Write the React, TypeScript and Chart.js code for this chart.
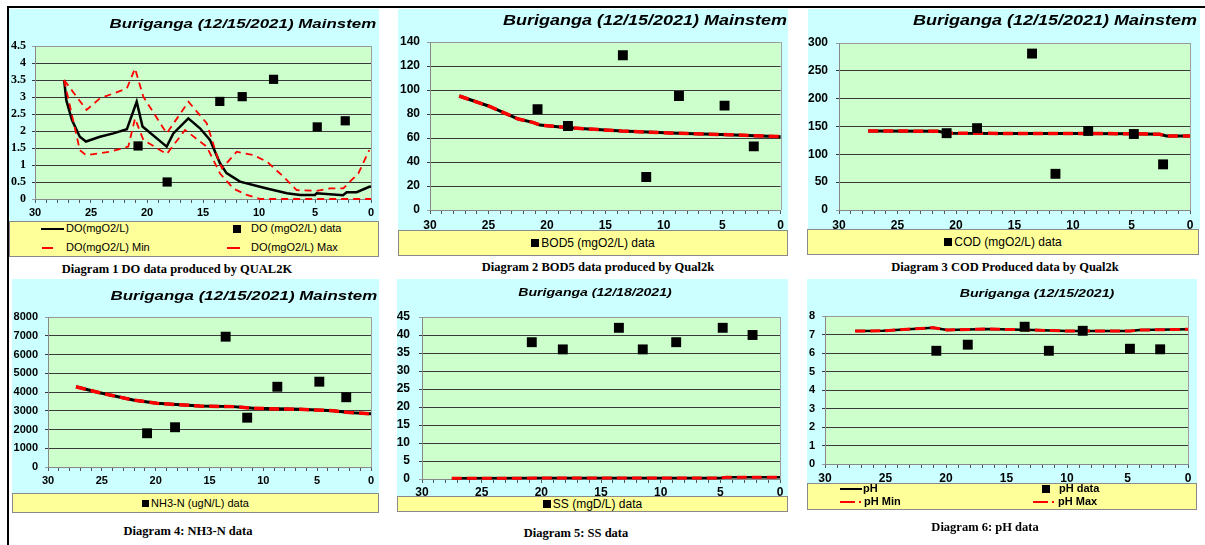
import React, { useEffect, useRef } from 'react';
import { Chart, registerables } from 'chart.js';
Chart.register(...registerables);

const SANS = '"Liberation Sans", Arial, Helvetica, sans-serif';
const SERIF = '"Liberation Serif", "Times New Roman", serif';
const CYAN = '#ccffff';
const GREEN = '#ccffcc';
const YELLOW = '#ffff99';
const RED = '#ff0000';
const PAGE_W = 1205;
const PAGE_H = 545;

// ---------- data ----------
const xTickLabels = [30, 25, 20, 15, 10, 5, 0];
const stationKm = [20.8, 18.2, 13.5, 11.5, 8.7, 4.8, 2.3];

// Diagram 1 : DO
const doObs = [1.56, 0.5, 2.87, 3.01, 3.52, 2.12, 2.3];
const doModelKm = [27.4, 27.2, 26.7, 26.0, 25.45, 24.2, 23.0, 21.8, 20.92, 20.4, 18.24, 17.65, 16.31, 15.27, 14.38, 13.48, 12.9, 11.7, 9.3, 7.5, 6.34, 5.0, 4.85, 2.5, 2.17, 1.28, 0.15, 0];
const doModel = [3.5, 2.9, 2.32, 1.83, 1.69, 1.83, 1.93, 2.05, 2.86, 2.13, 1.54, 1.93, 2.37, 2.08, 1.74, 1.05, 0.76, 0.51, 0.31, 0.17, 0.12, 0.12, 0.17, 0.11, 0.2, 0.2, 0.36, 0.37];
const doMinKm = [27.4, 26.0, 25.45, 23.3, 21.67, 21.07, 20.33, 18.24, 16.6, 14.67, 13.48, 12.3, 11.1, 9.9, 0];
const doMin = [3.5, 1.44, 1.29, 1.39, 1.54, 2.37, 1.74, 1.32, 2.03, 1.54, 0.75, 0.31, 0.12, 0, 0];
const doMaxKm = [27.4, 25.4, 24.2, 21.8, 21.07, 20.33, 18.24, 16.3, 14.67, 13.63, 13.3, 11.99, 10.5, 9.3, 7.83, 6.64, 4.85, 3.66, 2.47, 1.88, 1.13, 0.15];
const doMax = [3.5, 2.62, 2.96, 3.25, 3.84, 3.01, 1.93, 2.86, 2.23, 1.15, 0.9, 1.39, 1.29, 1.1, 0.66, 0.26, 0.24, 0.31, 0.31, 0.51, 0.75, 1.44];

// Diagram 2 : BOD5
const bodObs = [84, 70, 129, 27.5, 95, 87, 53];
const bodModelKm = [27.5, 25.0, 22.45, 21.2, 20.6, 18.2, 13.6, 8.76, 4.5, 1.6, 0];
const bodModel = [95, 86.7, 75.8, 73, 70.8, 68.6, 65.8, 63.9, 62.8, 61.7, 61.1];

// Diagram 3 : COD
const codObs = [138, 147, 281, 65, 142, 136.5, 82];
const codModelKm = [27.5, 21.5, 20.8, 15, 10, 5, 2.6, 2.0, 0];
const codModel = [142, 141.5, 138, 137.5, 137.5, 137, 136, 133, 133];

// Diagram 4 : NH3-N
const nh3Obs = [1800, 2120, 6950, 2630, 4280, 4550, 3720];
const nh3ModelKm = [27.4, 25.2, 22.1, 19.9, 15.9, 12.8, 10.9, 6.6, 3.5, 2.0, 0];
const nh3Model = [4280, 3960, 3570, 3400, 3250, 3220, 3130, 3075, 3000, 2900, 2840];

// Diagram 5 : SS
const ssObs = [38, 36, 42, 36, 38, 42, 40];
const ssModelKm = [27.5, 20, 15, 10, 5, 4.5, 0];
const ssModel = [0.2, 0.25, 0.3, 0.3, 0.3, 0.5, 0.5];

// Diagram 6 : pH
const phObs = [6.12, 6.45, 7.42, 6.12, 7.2, 6.23, 6.2];
const phModelKm = [27.5, 25.2, 21.05, 19.9, 16.6, 12.8, 10.0, 4.8, 4.0, 0];
const phModel = [7.19, 7.2, 7.37, 7.24, 7.3, 7.24, 7.19, 7.19, 7.24, 7.28];

// ---------- helpers ----------
type Box = { left: number; top: number; width: number; height: number };
type Area = { left: number; right: number; top: number; bottom: number };

const toXY = (xs: number[], ys: number[]) => xs.map((x, i) => ({ x, y: ys[i] }));

const lineDs = (label: string, xs: number[], ys: number[], color: string, width: number, dash: number[] = []) => ({
  label,
  data: toXY(xs, ys),
  showLine: true,
  borderColor: color,
  backgroundColor: color,
  borderWidth: width,
  borderDash: dash,
  pointRadius: 0,
  pointHoverRadius: 0,
  tension: 0,
  fill: false,
  clip: false as any,
});

const obsDs = (label: string, ys: number[], r: number) => ({
  label,
  data: toXY(stationKm, ys),
  showLine: false,
  pointStyle: 'rect',
  pointRadius: r,
  pointHoverRadius: r,
  backgroundColor: '#000',
  borderColor: '#000',
  borderWidth: 0,
});

const bgPlugin = {
  id: 'bgPlugin',
  beforeDraw(chart: any) {
    const { ctx, chartArea: a } = chart;
    ctx.save();
    ctx.fillStyle = GREEN;
    ctx.fillRect(a.left, a.top, a.right - a.left, a.bottom - a.top);
    ctx.strokeStyle = '#a0a0a0';
    ctx.lineWidth = 1;
    ctx.beginPath();
    ctx.moveTo(Math.round(a.right) + 0.5, a.top);
    ctx.lineTo(Math.round(a.right) + 0.5, a.bottom);
    ctx.stroke();
    ctx.restore();
  },
};

type Spec = {
  box: Box;
  canvasH: number;
  area: Area;
  yMax: number;
  yStep: number;
  yFont: any;
  xFs: number;
  yPad: number;
  xPad: number;
  datasets: any[];
};

function ChartCanvas({ spec }: { spec: Spec }) {
  const ref = useRef<HTMLCanvasElement>(null);
  useEffect(() => {
    const c = ref.current!;
    const { box, area, canvasH } = spec;
    const chart = new Chart(c, {
      type: 'scatter',
      data: { datasets: spec.datasets },
      options: {
        responsive: false,
        animation: false,
        devicePixelRatio: 1,
        events: [],
        layout: {
          padding: { left: 0, top: area.top - box.top, right: box.left + box.width - area.right, bottom: 0 },
        },
        plugins: { legend: { display: false }, tooltip: { enabled: false }, title: { display: false } },
        scales: {
          x: {
            type: 'linear',
            reverse: true,
            min: 0,
            max: 30,
            afterFit: (s: any) => {
              s.height = canvasH - (area.bottom - box.top);
            },
            ticks: {
              stepSize: 1,
              autoSkip: false,
              maxRotation: 0,
              padding: spec.xPad,
              color: '#000',
              font: { family: SANS, size: spec.xFs, weight: 'bold' },
              callback: (v: any) => (xTickLabels.includes(Number(v)) ? String(v) : ''),
            },
            grid: { drawOnChartArea: false, drawTicks: true, tickLength: 4, color: '#555' },
            border: { display: true, color: '#888', width: 1 },
          },
          y: {
            min: 0,
            max: spec.yMax,
            afterFit: (s: any) => {
              s.width = area.left - box.left;
            },
            ticks: {
              stepSize: spec.yStep,
              autoSkip: false,
              padding: spec.yPad,
              color: '#000',
              font: spec.yFont,
              callback: (v: any) => String(v),
            },
            grid: {
              color: (ctx: any) => {
                const v = ctx.tick ? ctx.tick.value : null;
                return v === spec.yMax || v === 0 ? '#9a9a9a' : '#3a3a3a';
              },
              tickLength: 3,
              lineWidth: 1,
            },
            border: { display: true, color: '#888', width: 1 },
          },
        },
      } as any,
      plugins: [bgPlugin],
    });
    return () => chart.destroy();
  }, []);
  return (
    <canvas
      ref={ref}
      width={spec.box.width}
      height={spec.canvasH}
      style={{
        position: 'absolute',
        left: spec.box.left,
        top: spec.box.top,
        width: spec.box.width,
        height: spec.canvasH,
        display: 'block',
        background: CYAN,
      }}
    />
  );
}

function Title({ text, x, y, fs, sx, align }: { text: string; x: number; y: number; fs: number; sx: number; align: 'right' | 'center' }) {
  const base: any = {
    position: 'absolute',
    top: y - fs * 0.6,
    fontFamily: SANS,
    fontWeight: 'bold',
    fontStyle: 'italic',
    fontSize: fs,
    lineHeight: `${fs * 1.2}px`,
    whiteSpace: 'nowrap',
    color: '#000',
  };
  if (align === 'right') {
    return <div style={{ ...base, right: PAGE_W - x, transformOrigin: 'right center', transform: `scaleX(${sx})` }}>{text}</div>;
  }
  return <div style={{ ...base, left: x, transform: `translateX(-50%) scaleX(${sx})` }}>{text}</div>;
}

function Txt({ text, x, y, fs, bold, family, center }: { text: string; x: number; y: number; fs: number; bold?: boolean; family?: string; center?: boolean }) {
  return (
    <div
      style={{
        position: 'absolute',
        left: x,
        top: y - fs * 0.6,
        fontFamily: family || SANS,
        fontWeight: bold ? 'bold' : 'normal',
        fontSize: fs,
        lineHeight: `${fs * 1.2}px`,
        whiteSpace: 'nowrap',
        color: '#000',
        transform: center ? 'translateX(-50%)' : undefined,
      }}
    >
      {text}
    </div>
  );
}

function Seg({ x1, x2, y, color, w }: { x1: number; x2: number; y: number; color: string; w: number }) {
  return <div style={{ position: 'absolute', left: x1, top: y - w / 2, width: x2 - x1, height: w, background: color }} />;
}

function Sq({ cx, cy, s }: { cx: number; cy: number; s: number }) {
  return <div style={{ position: 'absolute', left: cx - s / 2, top: cy - s / 2, width: s, height: s, background: '#000' }} />;
}

function LegendBox({ box, children }: { box: Box; children?: any }) {
  return (
    <div
      style={{
        position: 'absolute',
        left: box.left,
        top: box.top,
        width: box.width,
        height: box.height,
        background: YELLOW,
        boxSizing: 'border-box',
        border: '1px solid #8a8a8a',
      }}
    >
      {children}
    </div>
  );
}

function CenterLegend({ box, text, fs, sq }: { box: Box; text: string; fs: number; sq: number }) {
  return (
    <LegendBox box={box}>
      <div
        style={{
          position: 'absolute',
          left: 0,
          right: 0,
          top: 0,
          bottom: 0,
          display: 'flex',
          alignItems: 'center',
          justifyContent: 'center',
          fontFamily: SANS,
          fontSize: fs,
          color: '#000',
          whiteSpace: 'nowrap',
        }}
      >
        <span style={{ display: 'inline-block', width: sq, height: sq, background: '#000', marginRight: 2 }} />
        <span>{text}</span>
      </div>
    </LegendBox>
  );
}

// ---------- panel specs ----------
const boldSans = (size: number) => ({ family: SANS, size, weight: 'bold' });

const p1: Spec = {
  box: { left: 9, top: 9, width: 370, height: 212 },
  canvasH: 212,
  area: { left: 35, right: 371, top: 46, bottom: 199 },
  yMax: 4.5,
  yStep: 0.5,
  yFont: { family: SERIF, size: 12, weight: 'bold' },
  xFs: 11,
  yPad: 6,
  xPad: 3,
  datasets: [
    obsDs('DO (mgO2/L) data', doObs, 6.5),
    lineDs('DO(mgO2/L) Max', doMaxKm, doMax, RED, 1.8, [7, 5]),
    lineDs('DO(mgO2/L) Min', doMinKm, doMin, RED, 1.8, [7, 5]),
    lineDs('DO(mgO2/L)', doModelKm, doModel, '#000', 2.5),
  ],
};

const p2: Spec = {
  box: { left: 398, top: 9, width: 390, height: 221 },
  canvasH: 221,
  area: { left: 430, right: 781, top: 42, bottom: 210 },
  yMax: 140,
  yStep: 20,
  yFont: boldSans(12),
  xFs: 12,
  yPad: 7,
  xPad: 4,
  datasets: [
    obsDs('BOD5 (mgO2/L) data', bodObs, 7),
    lineDs('BOD5 Min/Max', bodModelKm, bodModel, RED, 3.5, [10, 5]),
    lineDs('BOD5 (mgO2/L)', bodModelKm, bodModel, '#000', 3),
  ],
};

const p3: Spec = {
  box: { left: 808, top: 9, width: 392, height: 220 },
  canvasH: 220,
  area: { left: 839, right: 1190, top: 43, bottom: 210 },
  yMax: 300,
  yStep: 50,
  yFont: boldSans(12),
  xFs: 12,
  yPad: 8,
  xPad: 4,
  datasets: [
    obsDs('COD (mgO2/L) data', codObs, 7),
    lineDs('COD Min/Max', codModelKm, codModel, RED, 3.5, [10, 5]),
    lineDs('COD (mgO2/L)', codModelKm, codModel, '#000', 3),
  ],
};

const p4: Spec = {
  box: { left: 12, top: 279, width: 367, height: 214 },
  canvasH: 214,
  area: { left: 48, right: 371, top: 317, bottom: 467 },
  yMax: 8000,
  yStep: 1000,
  yFont: boldSans(11),
  xFs: 11,
  yPad: 7,
  xPad: 3,
  datasets: [
    obsDs('NH3-N (ugN/L) data', nh3Obs, 7),
    lineDs('NH3-N Min/Max', nh3ModelKm, nh3Model, RED, 3.5, [10, 5]),
    lineDs('NH3-N (ugN/L)', nh3ModelKm, nh3Model, '#000', 3),
  ],
};

const p5: Spec = {
  box: { left: 397, top: 279, width: 391, height: 217 },
  canvasH: 219,
  area: { left: 422, right: 780, top: 317, bottom: 479 },
  yMax: 45,
  yStep: 5,
  yFont: boldSans(12),
  xFs: 12,
  yPad: 9,
  xPad: 2,
  datasets: [
    obsDs('SS (mgD/L) data', ssObs, 7),
    lineDs('SS Min/Max', ssModelKm, ssModel, RED, 3, [10, 5]),
    lineDs('SS (mgD/L)', ssModelKm, ssModel, '#000', 2.5),
  ],
};

const p6: Spec = {
  box: { left: 807, top: 279, width: 390, height: 204 },
  canvasH: 204,
  area: { left: 825, right: 1188, top: 316, bottom: 464 },
  yMax: 8,
  yStep: 1,
  yFont: boldSans(11),
  xFs: 12,
  yPad: 7,
  xPad: 3,
  datasets: [
    obsDs('pH data', phObs, 7),
    lineDs('pH Max', phModelKm, phModel, RED, 3, [10, 5]),
    lineDs('pH', phModelKm, phModel, '#000', 2.5),
  ],
};

export default function App() {
  return (
    <div style={{ position: 'absolute', left: 0, top: 0, width: PAGE_W, height: PAGE_H, background: '#fff', overflow: 'hidden' }}>
      {/* page frame */}
      <div style={{ position: 'absolute', left: 7, top: 6, width: PAGE_W - 7, height: 2, background: '#000' }} />
      <div style={{ position: 'absolute', left: 7, top: 6, width: 2, height: PAGE_H - 6, background: '#000' }} />

      {/* Diagram 1 */}
      <ChartCanvas spec={p1} />
      <Title text="Buriganga (12/15/2021) Mainstem" x={376} y={24} fs={13} sx={1.3} align="right" />
      <LegendBox box={{ left: 9, top: 221, width: 370, height: 36 }} />
      <Seg x1={41} x2={64} y={229} color="#000" w={2.5} />
      <Txt text="DO(mgO2/L)" x={66} y={229} fs={11} />
      <Sq cx={237} cy={229} s={8} />
      <Txt text="DO (mgO2/L) data" x={251} y={229} fs={11} />
      <Seg x1={42} x2={53} y={248} color={RED} w={2} />
      <Txt text="DO(mgO2/L) Min" x={66} y={248} fs={11} />
      <Seg x1={227} x2={240} y={248} color={RED} w={2} />
      <Txt text="DO(mgO2/L) Max" x={251} y={248} fs={11} />
      <Txt text="Diagram 1 DO data produced by QUAL2K" x={177} y={269} fs={12.5} bold family={SERIF} center />

      {/* Diagram 2 */}
      <ChartCanvas spec={p2} />
      <Title text="Buriganga (12/15/2021) Mainstem" x={787} y={20} fs={14} sx={1.285} align="right" />
      <CenterLegend box={{ left: 398, top: 230, width: 390, height: 26 }} text="BOD5 (mgO2/L) data" fs={12} sq={8} />
      <Txt text="Diagram 2 BOD5 data produced by Qual2k" x={598} y={267} fs={12.5} bold family={SERIF} center />

      {/* Diagram 3 */}
      <ChartCanvas spec={p3} />
      <Title text="Buriganga (12/15/2021) Mainstem" x={1197} y={20} fs={14} sx={1.285} align="right" />
      <CenterLegend box={{ left: 807, top: 229, width: 392, height: 26 }} text="COD (mgO2/L) data" fs={12} sq={8} />
      <Txt text="Diagram 3 COD Produced data by Qual2k" x={1005} y={267} fs={12.5} bold family={SERIF} center />

      {/* Diagram 4 */}
      <ChartCanvas spec={p4} />
      <Title text="Buriganga (12/15/2021) Mainstem" x={377} y={296} fs={13} sx={1.3} align="right" />
      <CenterLegend box={{ left: 12, top: 493, width: 367, height: 20 }} text="NH3-N (ugN/L) data" fs={11} sq={7} />
      <Txt text="Diagram 4: NH3-N data" x={188} y={531} fs={12.5} bold family={SERIF} center />

      {/* Diagram 5 */}
      <ChartCanvas spec={p5} />
      <Title text="Buriganga (12/18/2021)" x={595} y={293} fs={11} sx={1.28} align="center" />
      <CenterLegend box={{ left: 397, top: 496, width: 391, height: 16 }} text="SS (mgD/L) data" fs={12} sq={8} />
      <Txt text="Diagram 5: SS data" x={576} y={533} fs={12.5} bold family={SERIF} center />

      {/* Diagram 6 */}
      <ChartCanvas spec={p6} />
      <Title text="Buriganga (12/15/2021)" x={1037} y={294} fs={11} sx={1.29} align="center" />
      <LegendBox box={{ left: 807, top: 483, width: 390, height: 27 }} />
      <Seg x1={840} x2={862} y={489} color="#000" w={2} />
      <Txt text="pH" x={863} y={489} fs={11} bold />
      <Sq cx={1046} cy={489} s={8} />
      <Txt text="pH data" x={1059} y={489} fs={11} bold />
      <Seg x1={840} x2={855} y={502} color={RED} w={2.5} />
      <Seg x1={859} x2={861} y={502} color={RED} w={2} />
      <Txt text="pH Min" x={864} y={502} fs={11} bold />
      <Seg x1={1033} x2={1048} y={502} color={RED} w={2.5} />
      <Seg x1={1052} x2={1054} y={502} color={RED} w={2} />
      <Txt text="pH Max" x={1058} y={502} fs={11} bold />
      <Txt text="Diagram 6: pH data" x={985} y={527} fs={12.5} bold family={SERIF} center />
    </div>
  );
}
